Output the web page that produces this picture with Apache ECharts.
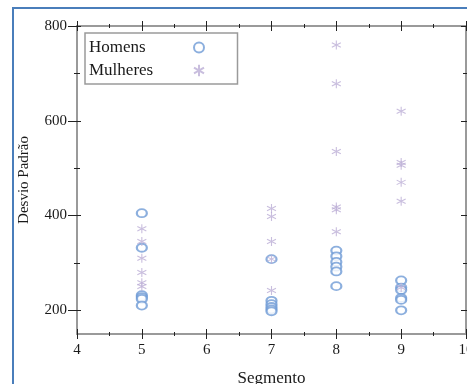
<!DOCTYPE html>
<html><head><meta charset="utf-8">
<script src="https://cdn.jsdelivr.net/npm/echarts@6/dist/echarts.min.js"></script>
<style>html,body{margin:0;padding:0;background:#fff}#c{width:467px;height:384px}</style>
</head><body><div id="c"></div>
<script>
// Data
const segmentos = [5, 7, 8, 9];
const homensSeg5 = [405, 332, 232, 228, 224, 210];
const homensSeg7 = [308, 220, 213, 207, 202, 198];
const homensSeg8 = [326, 314, 302, 292, 282, 251];
const homensSeg9 = [263, 248, 243, 226, 222, 200];
const mulheresSeg5 = [372, 345, 310, 280, 258, 250];
const mulheresSeg7 = [415, 398, 345, 308, 242];
const mulheresSeg8 = [760, 678, 535, 418, 412, 366];
const mulheresSeg9 = [620, 512, 506, 470, 430, 248];
const yMajorTicks = [200, 400, 600, 800];
const yMinorTicks = [300, 500, 700];

const homensBySeg = [homensSeg5, homensSeg7, homensSeg8, homensSeg9];
const mulheresBySeg = [mulheresSeg5, mulheresSeg7, mulheresSeg8, mulheresSeg9];
function pairs(groups) {
  const out = [];
  groups.forEach((vals, i) => vals.forEach(v => out.push([segmentos[i], v])));
  return out;
}

const FONT = 'Liberation Serif';
const LINE = '#9a9a9a';
const TICK = '#222';
const TXT = '#1a1a1a';

function xAx(pos, inside, show) {
  return {
    type: 'value', position: pos, min: 4, max: 10, interval: 1,
    axisLine: { show: show, lineStyle: { color: LINE, width: 2 } },
    axisTick: { show: true, inside: inside, length: 5, lineStyle: { color: TICK, width: 1 } },
    minorTick: { show: true, splitNumber: 2, length: 2, lineStyle: { color: TICK, width: 1 } },
    axisLabel: { show: pos === 'bottom' && !inside, fontFamily: FONT, fontSize: 15, color: TXT, margin: 9 },
    splitLine: { show: false },
    name: (pos === 'bottom' && !inside) ? 'Segmento' : '',
    nameLocation: 'middle', nameGap: 36,
    nameTextStyle: { fontFamily: FONT, fontSize: 17, color: TXT }
  };
}
function yAx(pos, inside, show, vals, len, label) {
  return {
    type: 'value', position: pos, min: 150, max: 800,
    axisLine: { show: show, lineStyle: { color: LINE, width: 2 } },
    axisTick: { show: true, inside: inside, length: len, customValues: vals, lineStyle: { color: TICK, width: 1 } },
    axisLabel: { show: label, customValues: vals, fontFamily: FONT, fontSize: 15, color: TXT, margin: 10 },
    splitLine: { show: false },
    name: label ? 'Desvio Padrão' : '',
    nameLocation: 'middle', nameGap: 45,
    nameTextStyle: { fontFamily: FONT, fontSize: 15, color: TXT }
  };
}

const asterisk = 'path://M0,-5L0,5M-4.33,-2.5L4.33,2.5M-4.33,2.5L4.33,-2.5';

const chart = echarts.init(document.getElementById('c'), null, { renderer: 'canvas' });
chart.setOption({
  animation: false,
  backgroundColor: '#fff',
  grid: { left: 77, top: 26, right: 1, bottom: 50, containLabel: false, outerBoundsMode: 'none' },
  graphic: [{
    type: 'rect', shape: { x: 13, y: 8, width: 600, height: 600 },
    style: { fill: 'none', stroke: '#4a7ebb', lineWidth: 2 }, z: -1
  }],
  xAxis: [
    xAx('bottom', false, true), xAx('bottom', true, false),
    xAx('top', false, true), xAx('top', true, false)
  ],
  yAxis: [
    yAx('left', false, true, yMajorTicks, 9, true),
    yAx('left', true, false, yMajorTicks, 4, false),
    yAx('left', false, false, yMinorTicks, 3, false),
    yAx('left', true, false, yMinorTicks, 3, false),
    yAx('right', false, true, yMajorTicks, 4, false),
    yAx('right', true, false, yMajorTicks, 5, false),
    yAx('right', false, false, yMinorTicks, 3, false),
    yAx('right', true, false, yMinorTicks, 3, false)
  ],
  legend: {
    left: 85, top: 33, orient: 'vertical', align: 'right',
    padding: [6, 31, 5, 4], itemGap: 6, itemWidth: 10, itemHeight: 14,
    borderColor: '#9a9a9a', borderWidth: 1.5,
    formatter: n => '{a|' + n + '}',
    textStyle: { fontFamily: FONT, fontSize: 17, color: TXT,
      rich: { a: { width: 100, align: 'left', lineHeight: 14, fontFamily: FONT, fontSize: 17, color: TXT } } },
    data: ['Homens', 'Mulheres']
  },
  series: [
    {
      name: 'Homens', type: 'scatter', xAxisIndex: 0, yAxisIndex: 0,
      symbol: 'emptyCircle', symbolSize: [10, 8],
      itemStyle: { color: '#6f9bd6', borderColor: '#6f9bd6', borderWidth: 1.3 },
      data: pairs(homensBySeg)
    },
    {
      name: 'Mulheres', type: 'scatter', xAxisIndex: 0, yAxisIndex: 0,
      symbol: asterisk, symbolSize: 9,
      itemStyle: { color: 'none', borderColor: '#bcaed6', borderWidth: 1.1 },
      data: pairs(mulheresBySeg)
    }
  ]
});
</script></body></html>
